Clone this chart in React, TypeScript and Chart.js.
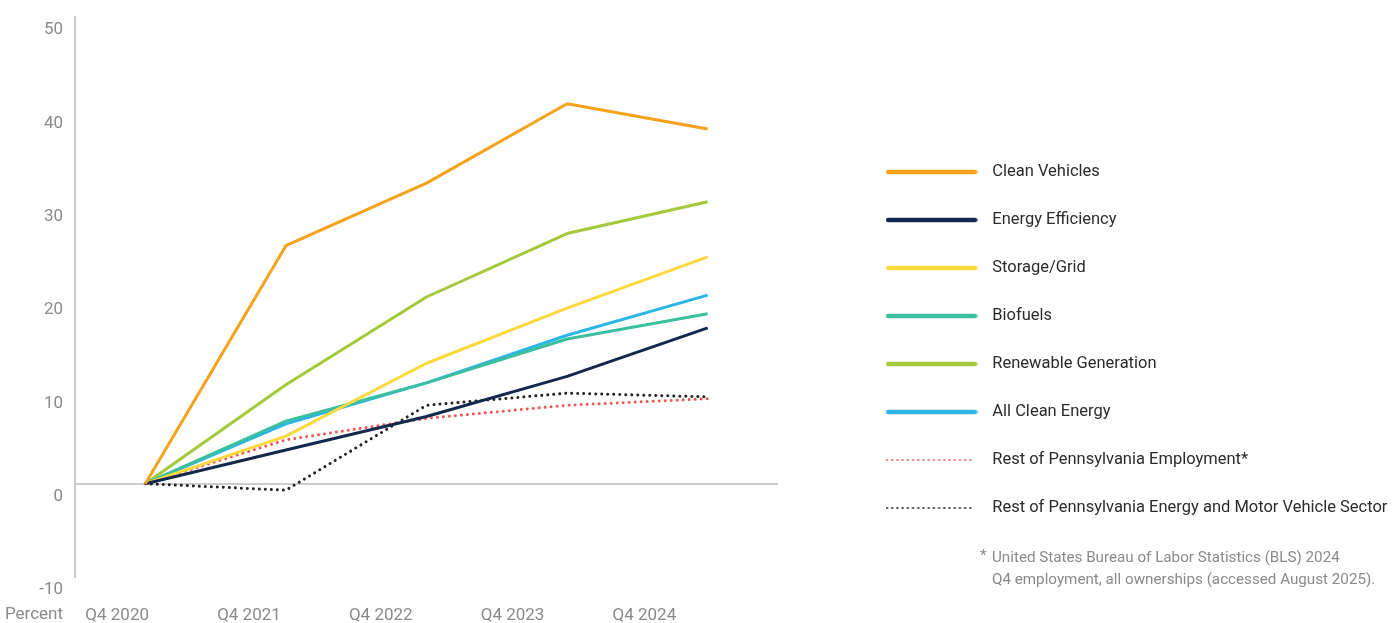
import React, { useEffect, useRef } from 'react';
import { Chart, registerables } from 'chart.js';

Chart.register(...registerables);

// ---- data ----
const categories = ['Q4 2020', 'Q4 2021', 'Q4 2022', 'Q4 2023', 'Q4 2024'];
const seriesLabels = [
  'Clean Vehicles',
  'Energy Efficiency',
  'Storage/Grid',
  'Biofuels',
  'Renewable Generation',
  'All Clean Energy',
  'Rest of Pennsylvania Employment*',
  'Rest of Pennsylvania Energy and Motor Vehicle Sector',
];
const cleanVehicles = [0, 25.5, 32.2, 40.7, 38.0];
const energyEfficiency = [0, 3.6, 7.2, 11.5, 16.7];
const storageGrid = [0, 5.1, 12.9, 18.8, 24.3];
const biofuels = [0, 6.7, 10.8, 15.5, 18.2];
const renewableGeneration = [0, 10.6, 20.0, 26.8, 30.2];
const allCleanEnergy = [0, 6.4, 10.8, 15.9, 20.2];
const restPaEmployment = [0, 4.7, 7.0, 8.4, 9.1];
const restPaEnergyMotor = [0, -0.7, 8.4, 9.7, 9.3];
const yTicks = { min: -10, max: 50, step: 10 };
const axisUnit = 'Percent';
const footnoteLines = [
  'United States Bureau of Labor Statistics (BLS) 2024',
  'Q4 employment, all ownerships (accessed August 2025).',
];

// ---- styles ----
const FONT = "Roboto, 'Liberation Sans', sans-serif";
const TICK_COLOR = '#8a8a8a';
const TEXT_COLOR = '#2b2b2b';
const AXIS_COLOR = '#cccccc';
const colors = ['#F7A21B', '#14284B', '#FDD93C', '#3BBF9F', '#A4C93A', '#2CB6E8', '#F05656', '#222222'];
const dotted = [false, false, false, false, false, false, true, true];
const W = 1396;
const H = 623;
const LEGEND_LEFT = 847.5;
const TICK_SIZE = 17;
const LEGEND_SIZE = 16.5;
const NOTE_SIZE = 15.2;

function makeIcon(color: string, isDotted: boolean): HTMLCanvasElement {
  const c = document.createElement('canvas');
  c.width = 92;
  c.height = 8;
  const g = c.getContext('2d')!;
  g.strokeStyle = color;
  g.lineCap = 'round';
  if (isDotted) {
    g.lineWidth = 2.2;
    g.setLineDash([0.01, 5.2]);
    g.beginPath();
    g.moveTo(1.5, 4);
    g.lineTo(89, 4);
    g.stroke();
  } else {
    g.lineWidth = 4.5;
    g.beginPath();
    g.moveTo(2.5, 4);
    g.lineTo(89.5, 4);
    g.stroke();
  }
  return c;
}

export default function App() {
  const ref = useRef<HTMLCanvasElement | null>(null);

  useEffect(() => {
    if (!ref.current) return;
    const values = [
      cleanVehicles,
      energyEfficiency,
      storageGrid,
      biofuels,
      renewableGeneration,
      allCleanEnergy,
      restPaEmployment,
      restPaEnergyMotor,
    ];
    const icons = colors.map((c, i) => makeIcon(c, dotted[i]));
    const itemH = LEGEND_SIZE;
    const legendPad = 48 - itemH;
    const pointW = 105;
    // vertical placement of the legend column (first item centred near y=172)
    const colH = 8 * 48;
    const titleH = 2 * (172 - itemH / 2) - (17 + legendPad + H - colH);

    const extras = {
      id: 'extras',
      afterDraw(chart: any) {
        const ctx = chart.ctx;
        const ca = chart.chartArea;
        ctx.save();
        ctx.font = `${TICK_SIZE}px ${FONT}`;
        ctx.fillStyle = TICK_COLOR;
        ctx.textAlign = 'right';
        ctx.textBaseline = 'middle';
        ctx.fillText(axisUnit, ca.left - 12, 615);
        const lx = chart.legend.left;
        ctx.font = `${NOTE_SIZE}px ${FONT}`;
        ctx.textAlign = 'left';
        ctx.fillText('*', lx + 132.5, 556);
        ctx.fillText(footnoteLines[0], lx + 144.5, 558);
        ctx.fillText(footnoteLines[1], lx + 144.5, 580);
        ctx.restore();
      },
    };

    const chart = new Chart(ref.current, {
      type: 'line',
      data: {
        labels: categories,
        datasets: values.map((v, i) => ({
          label: seriesLabels[i],
          data: v,
          borderColor: colors[i],
          backgroundColor: colors[i],
          borderWidth: 3,
          borderDash: dotted[i] ? [0.01, 6] : [],
          borderCapStyle: dotted[i] ? 'round' : 'butt',
          borderJoinStyle: 'round',
          pointRadius: 0,
          pointHoverRadius: 0,
          tension: 0,
          fill: false,
        })),
      },
      options: {
        responsive: false,
        animation: false,
        events: [],
        layout: { padding: { top: 17, left: 0, right: 0, bottom: 0 } },
        plugins: {
          tooltip: { enabled: false },
          legend: {
            position: 'right',
            align: 'center',
            maxWidth: W - LEGEND_LEFT,
            title: {
              display: true,
              text: ' ',
              font: { size: 10, lineHeight: 1 },
              padding: { top: Math.max(0, titleH - 10), bottom: 0 },
            },
            labels: {
              usePointStyle: true,
              pointStyleWidth: pointW,
              padding: legendPad,
              color: TEXT_COLOR,
              font: { family: FONT, size: LEGEND_SIZE },
              generateLabels: (ch: any) =>
                ch.data.datasets.map((ds: any, i: number) => ({
                  text: ds.label,
                  fillStyle: colors[i],
                  strokeStyle: colors[i],
                  lineWidth: 0,
                  pointStyle: icons[i],
                  hidden: false,
                  datasetIndex: i,
                  fontColor: TEXT_COLOR,
                })),
            },
          },
        },
        scales: {
          x: {
            type: 'category',
            display: false,
            offset: true,
          },
          x2: {
            type: 'linear',
            position: 'bottom',
            min: -0.32,
            max: 5.014,
            afterBuildTicks: (s: any) => {
              s.ticks = categories.map((_, i) => ({ value: i }));
            },
            afterFit: (s: any) => {
              s.height = 46;
              s.paddingLeft = 0;
              s.paddingRight = 0;
            },
            grid: { display: false, drawTicks: false },
            border: { display: false },
            ticks: {
              autoSkip: false,
              maxRotation: 0,
              padding: 29,
              color: TICK_COLOR,
              font: { family: FONT, size: TICK_SIZE },
              callback: (v: any) => categories[Math.round(Number(v))] ?? '',
            },
          },
          y: {
            min: yTicks.min,
            max: yTicks.max,
            afterFit: (s: any) => {
              s.width = 75;
              s.paddingTop = 0;
              s.paddingBottom = 0;
            },
            border: { display: true, color: AXIS_COLOR, width: 2 },
            grid: {
              drawTicks: false,
              lineWidth: 2,
              color: (c: any) => (c.tick && c.tick.value === 0 ? AXIS_COLOR : 'rgba(0,0,0,0)'),
            },
            ticks: {
              stepSize: yTicks.step,
              padding: 12,
              labelOffset: 13,
              color: TICK_COLOR,
              font: { family: FONT, size: TICK_SIZE },
            },
          },
          y2: {
            position: 'right',
            display: true,
            afterFit: (s: any) => {
              s.width = 69.5;
              s.paddingTop = 0;
              s.paddingBottom = 0;
            },
            grid: { display: false, drawTicks: false },
            border: { display: false },
            ticks: { display: false },
          },
        },
      },
      plugins: [extras],
    } as any);

    const lw = chart.legend ? chart.legend.width : 0;
    const padR = Math.max(0, W - LEGEND_LEFT - lw);
    if (padR > 0.5) {
      (chart.options.layout as any).padding.right = padR;
      chart.update();
    }

    return () => chart.destroy();
  }, []);

  return (
    <div style={{ position: 'fixed', left: 0, top: 0, width: W, height: H, background: '#fff' }}>
      <canvas ref={ref} width={W} height={H} style={{ width: W, height: H, display: 'block' }} />
    </div>
  );
}
